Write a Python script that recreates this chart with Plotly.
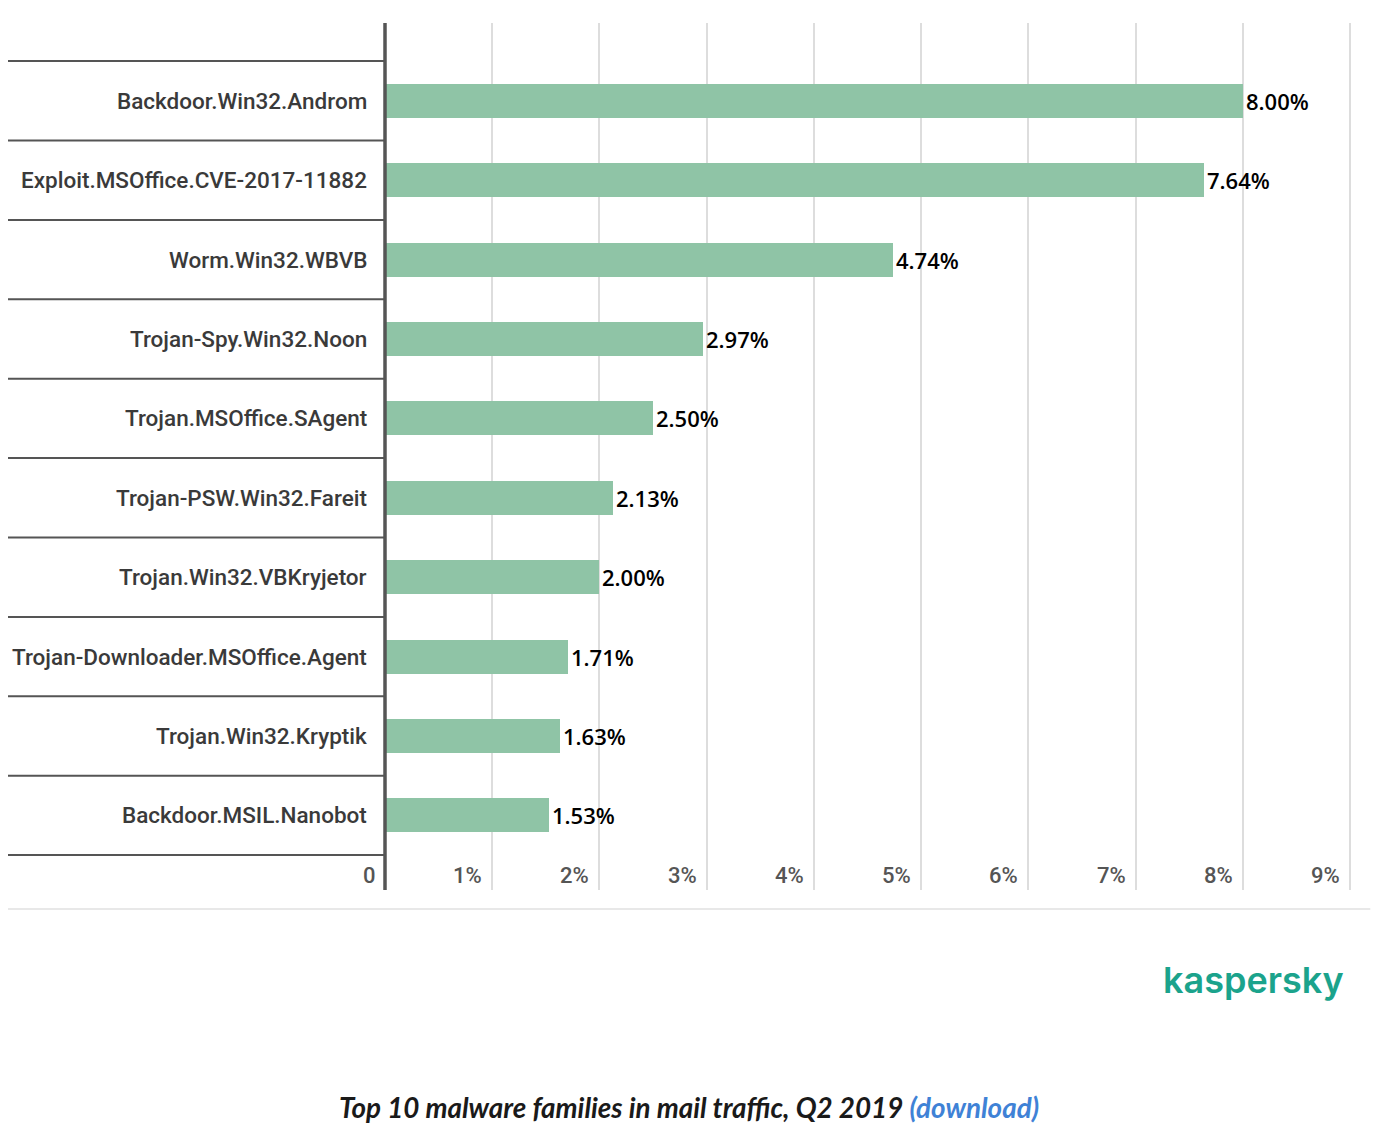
import plotly.graph_objects as go

categories = [
    "Backdoor.Win32.Androm",
    "Exploit.MSOffice.CVE-2017-11882",
    "Worm.Win32.WBVB",
    "Trojan-Spy.Win32.Noon",
    "Trojan.MSOffice.SAgent",
    "Trojan-PSW.Win32.Fareit",
    "Trojan.Win32.VBKryjetor",
    "Trojan-Downloader.MSOffice.Agent",
    "Trojan.Win32.Kryptik",
    "Backdoor.MSIL.Nanobot",
]
values = [8.00, 7.64, 4.74, 2.97, 2.50, 2.13, 2.00, 1.71, 1.63, 1.53]
tick_values = [0, 1, 2, 3, 4, 5, 6, 7, 8, 9]
tick_labels = ["0", "1%", "2%", "3%", "4%", "5%", "6%", "7%", "8%", "9%"]

idx = list(range(len(categories)))

fig = go.Figure()
fig.add_trace(go.Bar(
    x=values, y=idx, orientation="h",
    marker=dict(color="#8fc4a6", line=dict(width=0)),
    width=0.43,
    text=[f"{v:.2f}%" for v in values],
    textposition="outside",
    textfont=dict(family="Open Sans", size=22, color="#000000", weight=600),
    cliponaxis=False,
    hoverinfo="skip",
))

shapes = []
for i in range(len(categories) + 1):
    shapes.append(dict(type="line", xref="paper", yref="y",
                       x0=-0.392, x1=0, y0=i - 0.5, y1=i - 0.5,
                       line=dict(color="#555555", width=2)))
shapes.append(dict(type="line", xref="paper", yref="paper",
                   x0=-0.392, x1=1.02, y0=-0.022, y1=-0.022,
                   line=dict(color="#e0e0e0", width=1.5)))
shapes.append(dict(type="line", xref="paper", yref="paper",
                   x0=0, x1=0, y0=0, y1=1,
                   line=dict(color="#555555", width=3.5)))

annotations = []
for i, c in enumerate(categories):
    annotations.append(dict(xref="paper", yref="y", x=0, y=i, text=c,
                            xanchor="right", yanchor="middle", xshift=-16,
                            showarrow=False,
                            font=dict(family="Roboto", size=22.5, color="#3a3a3a", weight=500)))
for tv, tl in zip(tick_values, tick_labels):
    annotations.append(dict(xref="x", yref="y", x=tv, y=9.76, text=tl,
                            xanchor="right", yanchor="middle",
                            xshift=-8 if tv else -7,
                            showarrow=False,
                            font=dict(family="Roboto", size=22, color="#555555", weight=500)))
annotations.append(dict(xref="paper", yref="paper", x=1.0, y=-0.104,
                        text="kaspersky", xanchor="right", yanchor="middle",
                        xshift=-5, showarrow=False,
                        font=dict(family="Inter", size=36, color="#1ba38c", weight=600)))
annotations.append(dict(xref="paper", yref="paper", x=0.0, y=-0.251,
                        text="<i>Top 10 malware families in mail traffic, Q2 2019 "
                             "<span style='color:#3f82d6'>(download)</span></i>",
                        xanchor="center", yanchor="middle", xshift=304,
                        showarrow=False,
                        font=dict(family="Lato", size=27.8, color="#1a1a1a", weight="bold")))

fig.update_layout(
    width=1365, height=1131,
    margin=dict(l=377, r=22, t=15, b=249),
    paper_bgcolor="white", plot_bgcolor="white",
    showlegend=False,
    bargap=0,
    xaxis=dict(range=[0, 9.01], tickvals=tick_values[1:], showticklabels=False,
               showgrid=True, gridcolor="#dddddd", gridwidth=2,
               zeroline=False, showline=False, fixedrange=True),
    yaxis=dict(range=[9.94, -0.98], showticklabels=False, showgrid=False,
               zeroline=False, showline=False, fixedrange=True),
    shapes=shapes,
    annotations=annotations,
)

fig.write_html("out.html")
